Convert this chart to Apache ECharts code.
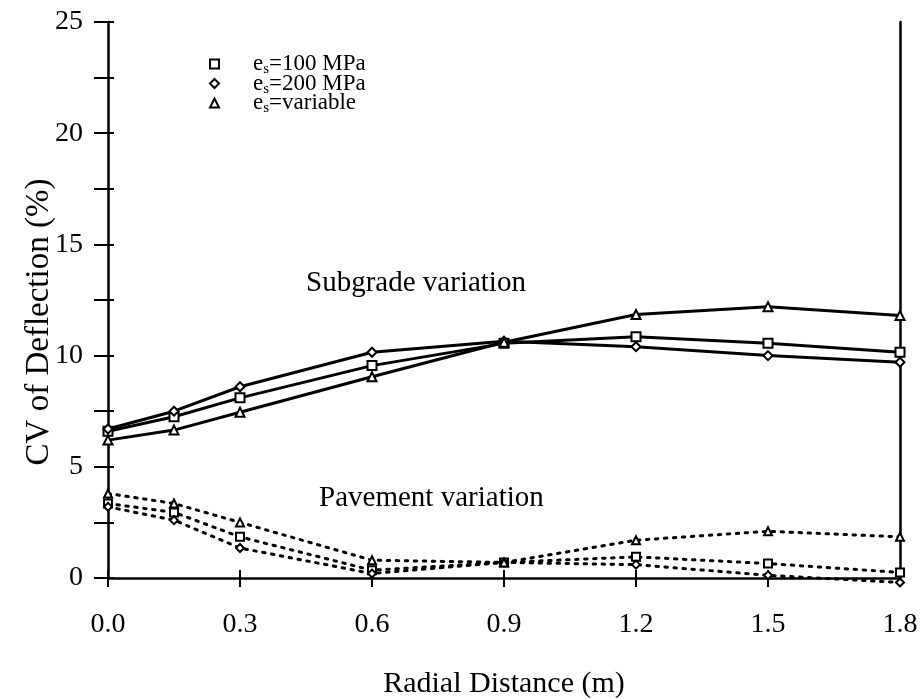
<!DOCTYPE html>
<html>
<head>
<meta charset="utf-8">
<script src="https://cdn.jsdelivr.net/npm/echarts@6/dist/echarts.min.js"></script>
<style>html,body{margin:0;padding:0;background:#fff;}#c{width:922px;height:698px;}</style>
</head>
<body>
<div id="c"></div>
<script>
const xValues = [0, 0.15, 0.3, 0.6, 0.9, 1.2, 1.5, 1.8];
const xTicks = ['0.0', '0.3', '0.6', '0.9', '1.2', '1.5', '1.8'];
const yTicks = [0, 5, 10, 15, 20, 25];
const names = ['es=100 MPa', 'es=200 MPa', 'es=variable'];
const symbols = ['rect', 'diamond', 'triangle'];
const subgrade100 = [6.6, 7.25, 8.1, 9.55, 10.55, 10.85, 10.55, 10.15];
const subgrade200 = [6.7, 7.5, 8.6, 10.15, 10.65, 10.4, 10.0, 9.7];
const subgradeVar = [6.2, 6.65, 7.45, 9.05, 10.6, 11.85, 12.2, 11.8];
const pavement100 = [3.35, 2.95, 1.85, 0.35, 0.7, 0.95, 0.65, 0.25];
const pavement200 = [3.2, 2.6, 1.35, 0.2, 0.7, 0.6, 0.12, -0.2];
const pavementVar = [3.8, 3.35, 2.5, 0.8, 0.7, 1.7, 2.1, 1.85];
const labelSubgrade = 'Subgrade variation';
const labelPavement = 'Pavement variation';

const FONT = 'Liberation Serif';
const chart = echarts.init(document.getElementById('c'), null, {renderer: 'canvas'});

function pairs(vals) { return xValues.map((x, i) => [x, vals[i]]); }
function mk(name, vals, sym, dotted) {
  return {
    type: 'line', name: name, data: pairs(vals), symbol: sym,
    symbolSize: dotted ? 8 : 9, clip: false, z: dotted ? 3 : 4,
    itemStyle: {color: '#fff', borderColor: '#000', borderWidth: 2},
    lineStyle: dotted ? {color: '#000', width: 3, type: [2.5, 6.5], cap: 'round'} : {color: '#000', width: 3},
    emphasis: {disabled: true}
  };
}
const subSets = [subgrade100, subgrade200, subgradeVar];
const pavSets = [pavement100, pavement200, pavementVar];
const series = [];
for (let i = 0; i < 3; i++) series.push(mk(names[i], subSets[i], symbols[i], false));
for (let i = 0; i < 3; i++) series.push(mk('pav' + i, pavSets[i], symbols[i], true));

const tickText = {fontFamily: FONT, fontSize: 28, color: '#000'};
const option = {
  animation: false,
  backgroundColor: '#fff',
  grid: {left: 108, right: 22, top: 22, bottom: 120, containLabel: false, outerBoundsMode: 'none'},
  legend: {
    data: names.map((n, i) => ({name: n, icon: symbols[i]})),
    orient: 'vertical', left: 204, top: 46, itemGap: -6.5,
    itemWidth: 9, itemHeight: 9,
    itemStyle: {color: '#fff', borderColor: '#000', borderWidth: 2},
    selectedMode: false,
    formatter: n => '{e|e}{s|s}{e|' + n.slice(2) + '}',
    textStyle: {
      fontFamily: FONT, fontSize: 23, color: '#000', padding: [0, 0, 0, 29],
      rich: {
        e: {fontFamily: FONT, fontSize: 23, color: '#000', lineHeight: 20},
        s: {fontFamily: FONT, fontSize: 15, color: '#000', lineHeight: 20, padding: [11, 0, 0, 0]}
      }
    }
  },
  xAxis: [{
    type: 'value', min: 0, max: 1.8, interval: 0.3,
    name: 'Radial Distance (m)', nameLocation: 'middle', nameGap: 91,
    nameTextStyle: {fontFamily: FONT, fontSize: 30, color: '#000'},
    axisLine: {lineStyle: {color: '#000', width: 2.5}},
    axisTick: {length: 9, lineStyle: {color: '#000', width: 2}},
    axisLabel: Object.assign({margin: 33, formatter: v => xTicks[Math.round(v / 0.3)]}, tickText),
    splitLine: {show: false}
  }, {
    type: 'value', min: 0, max: 1.8, interval: 0.3, position: 'bottom', offset: 0,
    axisLine: {show: false},
    axisTick: {inside: true, length: 8, lineStyle: {color: '#000', width: 2}},
    axisLabel: {show: false}, splitLine: {show: false}
  }],
  yAxis: [{
    type: 'value', min: 0, max: 25, interval: 2.5,
    name: 'CV of Deflection (%)', nameLocation: 'middle', nameGap: 52, nameMoveOverlap: false,
    nameTextStyle: {fontFamily: FONT, fontSize: 33, color: '#000', padding: [0, 44, 0, 0]},
    axisLine: {lineStyle: {color: '#000', width: 2.5}},
    axisTick: {length: 14, lineStyle: {color: '#000', width: 2}},
    axisLabel: Object.assign({margin: 25, formatter: v => (yTicks.indexOf(v) >= 0 ? String(v) : '')}, tickText),
    splitLine: {show: false}
  }, {
    type: 'value', min: 0, max: 25, interval: 2.5, position: 'left', offset: 0,
    axisLine: {show: false},
    axisTick: {inside: true, length: 6, lineStyle: {color: '#000', width: 2}},
    axisLabel: {show: false}, splitLine: {show: false}
  }, {
    type: 'value', min: 0, max: 25, position: 'right', offset: 0,
    axisLine: {show: true, lineStyle: {color: '#000', width: 2.5}},
    axisTick: {show: false}, axisLabel: {show: false}, splitLine: {show: false}
  }],
  series: series
};
chart.setOption(option);

const p1 = chart.convertToPixel({xAxisIndex: 0, yAxisIndex: 0}, [0.7, 13.25]);
const p2 = chart.convertToPixel({xAxisIndex: 0, yAxisIndex: 0}, [0.735, 3.6]);
chart.setOption({
  graphic: [
    {type: 'text', x: p1[0], y: p1[1], style: {text: labelSubgrade, font: '29px "Liberation Serif"', fill: '#000', textAlign: 'center', textVerticalAlign: 'middle'}},
    {type: 'text', x: p2[0], y: p2[1], style: {text: labelPavement, font: '29px "Liberation Serif"', fill: '#000', textAlign: 'center', textVerticalAlign: 'middle'}}
  ]
});
</script>
</body>
</html>
